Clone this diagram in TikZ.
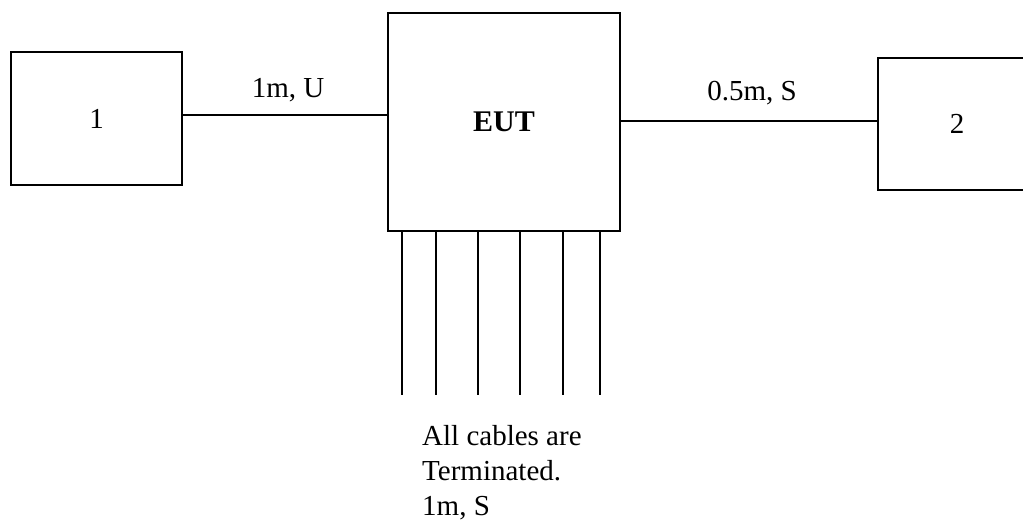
\documentclass[tikz,border=0pt]{standalone}
\usepackage{fontspec}
\setmainfont{Liberation Serif}
\begin{document}
\begin{tikzpicture}[x=1pt,y=-1pt,
  box/.style={draw,line width=1.4pt,inner sep=0pt,font=\fontsize{29}{35}\selectfont},
  cable/.style={line width=1.4pt},
  lbl/.style={inner sep=0pt,font=\fontsize{29}{35}\selectfont,anchor=base}]
\useasboundingbox (0,0) rectangle (1023,522);
\clip (0,0) rectangle (1023,522);
\node[box,minimum width=171pt,minimum height=133pt] (b1) at (96.5,118.5) {1};
\node[box,minimum width=232pt,minimum height=218pt,font=\fontsize{30}{35}\selectfont\bfseries] (eut) at (504,122) {EUT};
\node[box,minimum width=158pt,minimum height=132pt] (b2) at (957,124) {2};
\draw[cable] ([yshift=3.5pt]b1.east) -- ([yshift=3.5pt]b1.east -| eut.west);
\draw[cable] ([yshift=1pt]eut.east) -- ([yshift=1pt]eut.east -| b2.west);
\node[lbl] (l1) at (288,97) {1m, U};
\node[lbl] (l2) at (752,100) {0.5m, S};
\foreach \i/\x in {1/402,2/436,3/478,4/520,5/563,6/600}{
  \coordinate (c\i) at (\x,395);
  \draw[cable] (eut.south -| c\i) -- (c\i);
}
\node[inner sep=0pt,anchor=base west,align=left,font=\fontsize{29}{35}\selectfont] (note) at (422,515) {All cables are\\Terminated.\\1m, S};
\end{tikzpicture}
\end{document}
